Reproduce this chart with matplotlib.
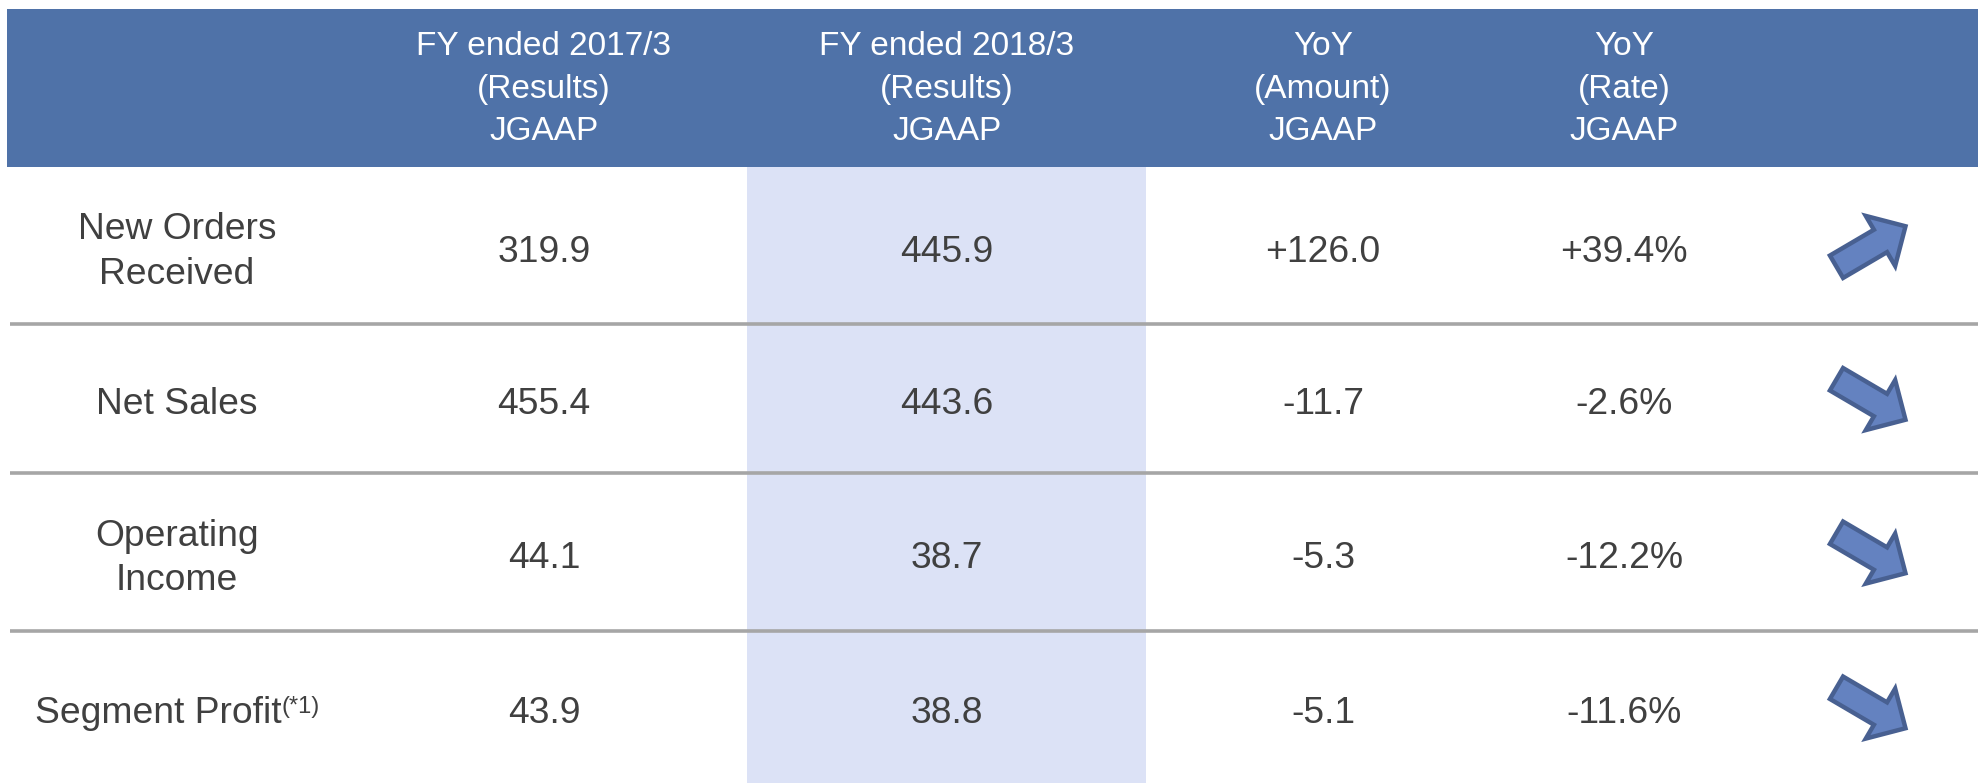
import matplotlib
matplotlib.use("Agg")
import matplotlib.pyplot as plt
import numpy as np
from matplotlib.patches import Rectangle, Polygon
from matplotlib import font_manager

# ---------------- data ----------------
row_labels = ["New Orders\nReceived", "Net Sales", "Operating\nIncome", "Segment Profit"]
row_marks = ["", "", "", "(*1)"]
header_labels = ["FY ended 2017/3\n(Results)\nJGAAP",
                 "FY ended 2018/3\n(Results)\nJGAAP",
                 "YoY\n(Amount)\nJGAAP",
                 "YoY\n(Rate)\nJGAAP"]
fy2017 = [319.9, 455.4, 44.1, 43.9]
fy2018 = [445.9, 443.6, 38.7, 38.8]
yoy_amount = [126.0, -11.7, -5.3, -5.1]
yoy_rate = [39.4, -2.6, -12.2, -11.6]

# ---------------- style / layout ----------------
W, H = 1978, 783
HEADER_BG = "#4F72A8"
HILITE = "#DCE2F6"
TEXT = "#404040"
SEP = "#A6A6A6"
ARROW_FC = "#6482C0"
ARROW_EC = "#486091"

names = {f.name for f in font_manager.fontManager.ttflist}
body_font = "Liberation Sans" if "Liberation Sans" in names else "DejaVu Sans"
head_font, head_size = body_font, 24

fig = plt.figure(figsize=(W / 100, H / 100), dpi=100)
ax = fig.add_axes([0, 0, 1, 1])
ax.set_xlim(0, W)
ax.set_ylim(H, 0)
ax.axis("off")

header_top, header_bot = 9, 167
row_edges = [167, 324, 473, 631, 783]
label_cx = 177
col_cx = [544, 947, 1323, 1624]
arrow_cx = 1871
hilite_x0, hilite_x1 = 747, 1146

# header band
ax.add_patch(Rectangle((7, header_top), W - 7, header_bot - header_top,
                       facecolor=HEADER_BG, edgecolor="none", zorder=1))
# highlighted column
ax.add_patch(Rectangle((hilite_x0, header_bot), hilite_x1 - hilite_x0, H - header_bot,
                       facecolor=HILITE, edgecolor="none", zorder=1))

# header text
head_baselines = [55, 98, 140]
for cx, lab in zip(col_cx, header_labels):
    for line, yb in zip(lab.split("\n"), head_baselines):
        ax.text(cx, yb, line, ha="center", va="baseline", color="white",
                fontsize=head_size, family=head_font, zorder=3)

# separators
for y in row_edges[1:-1]:
    ax.plot([10, W], [y, y], color=SEP, lw=2.6, solid_capstyle="butt", zorder=2)

body_kw = dict(color=TEXT, fontsize=26.8, family=body_font, zorder=3)


def fmt_signed(v, suffix=""):
    return ("+" if v > 0 else "") + f"{v:.1f}" + suffix


renderer = fig.canvas.get_renderer()

# arrow template (local coords: x along arrow direction)
tail, tip, head_len = -40, 40, 29
shaft_hw, head_hw = 13, 29
template = np.array([
    [tail, -shaft_hw], [tip - head_len, -shaft_hw], [tip - head_len, -head_hw],
    [tip, 0], [tip - head_len, head_hw], [tip - head_len, shaft_hw], [tail, shaft_hw]
])

for i in range(len(row_labels)):
    y0, y1 = row_edges[i], row_edges[i + 1]
    yc = (y0 + y1) / 2
    base = yc + 16
    # row label
    lines = row_labels[i].split("\n")
    n = len(lines)
    for k, line in enumerate(lines):
        yb = base + (k - (n - 1) / 2) * 45
        if row_marks[i]:
            t = ax.text(0, yb, line, ha="left", va="baseline", **body_kw)
            s = ax.text(0, yb - 10, row_marks[i], ha="left", va="baseline",
                        color=TEXT, fontsize=17, family=body_font, zorder=3)
            w1 = t.get_window_extent(renderer).width
            w2 = s.get_window_extent(renderer).width
            x0 = label_cx - (w1 + w2) / 2
            t.set_x(x0)
            s.set_x(x0 + w1)
        else:
            ax.text(label_cx, yb, line, ha="center", va="baseline", **body_kw)
    # values
    vals = [f"{fy2017[i]:.1f}", f"{fy2018[i]:.1f}",
            fmt_signed(yoy_amount[i]), fmt_signed(yoy_rate[i], "%")]
    for cx, v in zip(col_cx, vals):
        ax.text(cx, base, v, ha="center", va="baseline", **body_kw)
    # trend arrow
    ang = np.deg2rad(30.4 if yoy_rate[i] > 0 else -30.4)
    # screen y points down: up arrow means negative dy
    rot = np.array([[np.cos(ang), np.sin(ang)], [-np.sin(ang), np.cos(ang)]])
    pts = template @ rot.T
    pts[:, 0] += arrow_cx
    pts[:, 1] += yc + 1
    ax.add_patch(Polygon(pts, closed=True, facecolor=ARROW_FC, edgecolor=ARROW_EC,
                         lw=3.2, joinstyle="miter", zorder=3))

fig.savefig("out.png", dpi=100, facecolor="white")
